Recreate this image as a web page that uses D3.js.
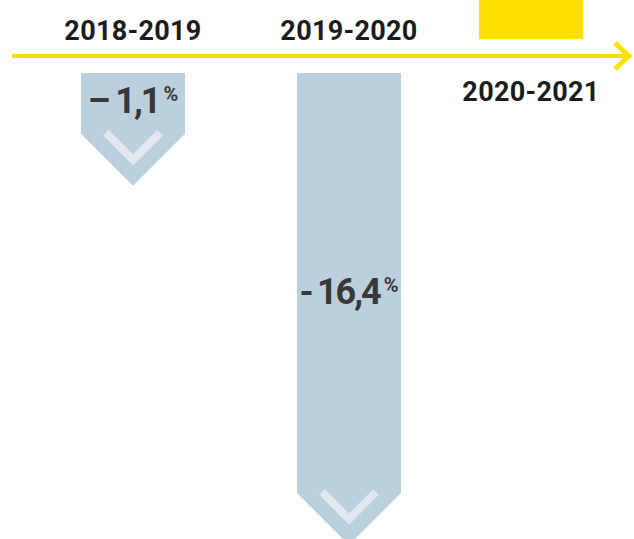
<!DOCTYPE html>
<html>
<head>
<meta charset="utf-8">
<script src="https://cdn.jsdelivr.net/npm/d3@7"></script>
<style>
    body { margin: 0; background: #fff; }
    svg { display: block; }
    .period { font-family: Roboto, "Liberation Sans", sans-serif; font-weight: 700; font-size: 27px; fill: #1c1c1f; letter-spacing: 0.3px; }
    .value { font-family: Roboto, "Liberation Sans", sans-serif; font-weight: 700; font-size: 36px; fill: #38383a; letter-spacing: -2px; }
</style>
</head>
<body>
<svg id="chart" width="634" height="539"></svg>
<script>
/***************************************************************
    Data
****************************************************************/
const periods = ["2018-2019", "2019-2020", "2020-2021"];
const changes = [-1.1, -16.4, 1.5];   // % change, last bar is cut off at the top

/***************************************************************
    Layout
****************************************************************/
const width = 634, height = 539;
const axisY = 56;
const gap = 17;          // space between axis and bar start
const barW = 104;
const head = barW / 2;   // 45 degree arrow head

const colors = { up: "#fbe000", down: "#bccfdd", chevron: "#e1e8ef", axis: "#fbe000" };

const x = d3.scaleOrdinal().domain(periods).range([133, 349, 531]);
const len = d3.scalePow().exponent(0.53).domain([0, 16.4]).range([0, 472]);

const svg = d3.select("#chart");

/***************************************************************
    Bars
****************************************************************/
const data = periods.map((p, i) => ({ period: p, value: changes[i] }));

function arrowPath(d) {
    const cx = x(d.period), l = len(Math.abs(d.value));
    const s = d.value < 0 ? 1 : -1;
    const y0 = axisY + s * gap, tip = y0 + s * l, neck = tip - s * head;
    return `M${cx - barW / 2},${y0}L${cx + barW / 2},${y0}L${cx + barW / 2},${neck}L${cx},${tip}L${cx - barW / 2},${neck}Z`;
}

function chevronPath(d) {
    const cx = x(d.period), l = len(Math.abs(d.value));
    const s = d.value < 0 ? 1 : -1;
    const tip = axisY + s * gap + s * l;
    const apex = tip - s * 26, arm = apex - s * 27;
    return `M${cx - 27},${arm}L${cx},${apex}L${cx + 27},${arm}`;
}

svg.append("g").selectAll("path").data(data).enter().append("path")
    .attr("d", arrowPath)
    .attr("fill", d => d.value < 0 ? colors.down : colors.up);

svg.append("g").selectAll("path").data(data.filter(d => d.value < 0)).enter().append("path")
    .attr("d", chevronPath)
    .attr("fill", "none")
    .attr("stroke", colors.chevron)
    .attr("stroke-width", 8);

/***************************************************************
    Axis line with arrow
****************************************************************/
svg.append("line")
    .attr("x1", 12).attr("x2", 629)
    .attr("y1", axisY).attr("y2", axisY)
    .attr("stroke", colors.axis).attr("stroke-width", 4);

svg.append("path")
    .attr("d", `M615,${axisY - 13}L629,${axisY}L615,${axisY + 13}`)
    .attr("fill", "none")
    .attr("stroke", colors.axis)
    .attr("stroke-width", 5);

/***************************************************************
    Labels
****************************************************************/
svg.append("g").selectAll("text").data(data).enter().append("text")
    .attr("class", "period")
    .attr("x", d => x(d.period))
    .attr("y", d => d.value < 0 ? 40 : 101)
    .attr("text-anchor", "middle")
    .text(d => d.period);

const fmt = v => d3.format(".1f")(Math.abs(v)).replace(".", ",");

const vals = svg.append("g").selectAll("text").data(data.filter(d => d.value < 0)).enter().append("text")
    .attr("class", "value")
    .attr("x", d => x(d.period))
    .attr("y", d => {
        const l = len(Math.abs(d.value)), top = axisY + gap;
        return l < 150 ? top + 40 : top + l * 0.5 - 5;
    })
    .attr("text-anchor", "middle");

vals.append("tspan").text(d => (Math.abs(d.value) < 10 ? "\u2013 " : "-\u2009") + fmt(d.value));
vals.append("tspan").attr("font-size", 20).attr("letter-spacing", 0).attr("dx", 4).attr("dy", -12).text("%");
</script>
</body>
</html>
